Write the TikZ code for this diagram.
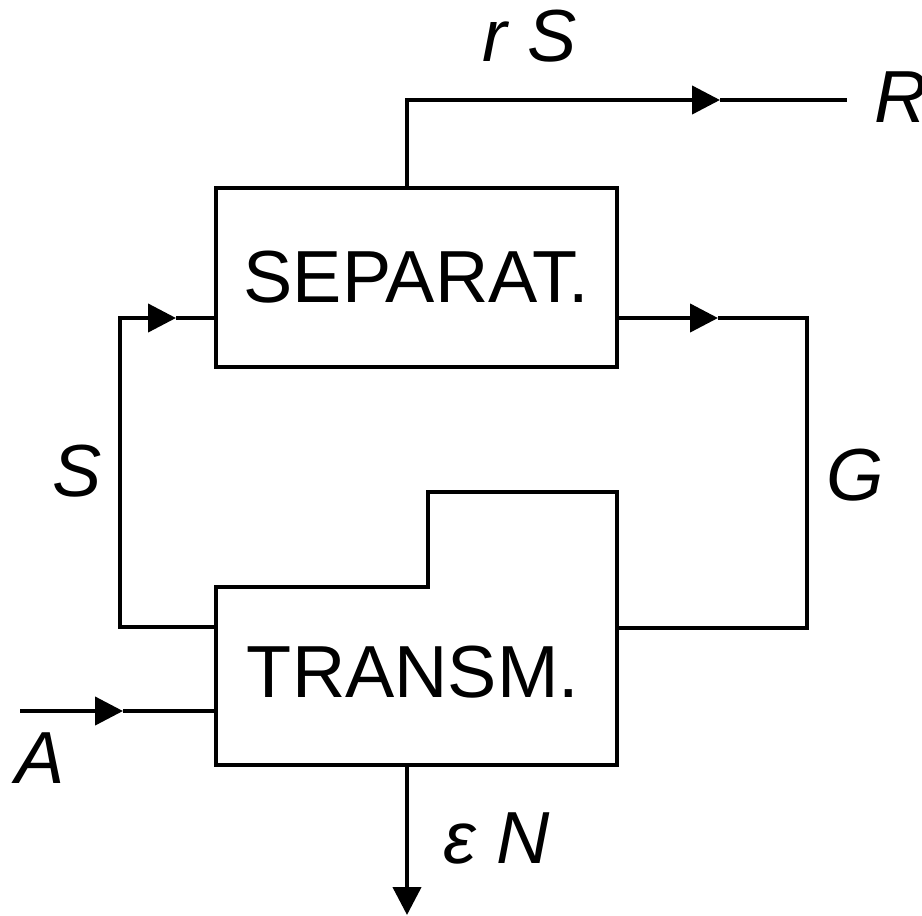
\documentclass[tikz,border=0pt]{standalone}
\usepackage{fontspec}
\setmainfont{Liberation Sans}
\usetikzlibrary{arrows.meta}
\tikzset{
  flow/.style={line width=1.2pt},
  tip/.style={-{Triangle[length=2.8mm,width=2.8mm]}},
  unit/.style={draw, line width=1.3pt, minimum width=4.01cm, minimum height=1.79cm, font=\fontsize{21}{25}\selectfont},
  lbl/.style={inner sep=0pt, font=\fontsize{21}{25}\selectfont\itshape}
}
\begin{document}
\begin{tikzpicture}
                \useasboundingbox (0, 0) rectangle (9.22, -9.15);
                \node[unit] (sep) at (4.165, -2.775) {SEPARAT.};
                \draw[line width=1.3pt] (2.16, -5.87) -- (4.28, -5.87) -- (4.28, -4.92) -- (6.17, -4.92) -- (6.17, -7.65) -- (2.16, -7.65) -- cycle;
                \node[inner sep=0pt, font=\fontsize{21}{25}\selectfont] (tr) at (4.13, -6.72) {TRANSM.};
                \coordinate (sepTop) at (4.07, -1.88);
                \coordinate (sepIn) at (2.16, -3.18);
                \coordinate (sepOut) at (6.17, -3.18);
                \coordinate (trS) at (2.16, -6.27);
                \coordinate (trG) at (6.17, -6.28);
                \coordinate (trA) at (2.16, -7.11);
                \coordinate (trBot) at (4.07, -7.65);
                \coordinate (rUp) at (4.07, -1.00);
                \coordinate (rMid) at (7.20, -1.00);
                \coordinate (rEnd) at (8.47, -1.00);
                \coordinate (sLeft) at (1.20, -6.27);
                \coordinate (sUp) at (1.20, -3.18);
                \coordinate (sMid) at (1.76, -3.18);
                \coordinate (gMid) at (7.18, -3.18);
                \coordinate (gRight) at (8.07, -3.18);
                \coordinate (gDown) at (8.07, -6.28);
                \coordinate (aStart) at (0.20, -7.11);
                \coordinate (aMid) at (1.23, -7.11);
                \coordinate (nEnd) at (4.07, -9.15);
                \draw[flow, tip] (sepTop) -- (rUp) -- (rMid);
                \draw[flow] (rMid) -- (rEnd);
                \draw[flow, tip] (trS) -- (sLeft) -- (sUp) -- (sMid);
                \draw[flow] (sMid) -- (sepIn);
                \draw[flow, tip] (sepOut) -- (gMid);
                \draw[flow] (gMid) -- (gRight) -- (gDown) -- (trG);
                \draw[flow, tip] (aStart) -- (aMid);
                \draw[flow] (aMid) -- (trA);
                \draw[flow, tip] (trBot) -- (nEnd);
                \node[lbl] (rS) at (5.30, -0.36) {r S};
                \node[lbl, anchor=west] (R) at (8.74, -0.97) {R};
                \node[lbl] (S) at (0.77, -4.71) {S};
                \node[lbl] (G) at (8.55, -4.75) {G};
                \node[lbl] (A) at (0.40, -7.58) {A};
                \node[lbl] (eN) at (4.97, -8.38) {ε N};
            \end{tikzpicture}
\end{document}
